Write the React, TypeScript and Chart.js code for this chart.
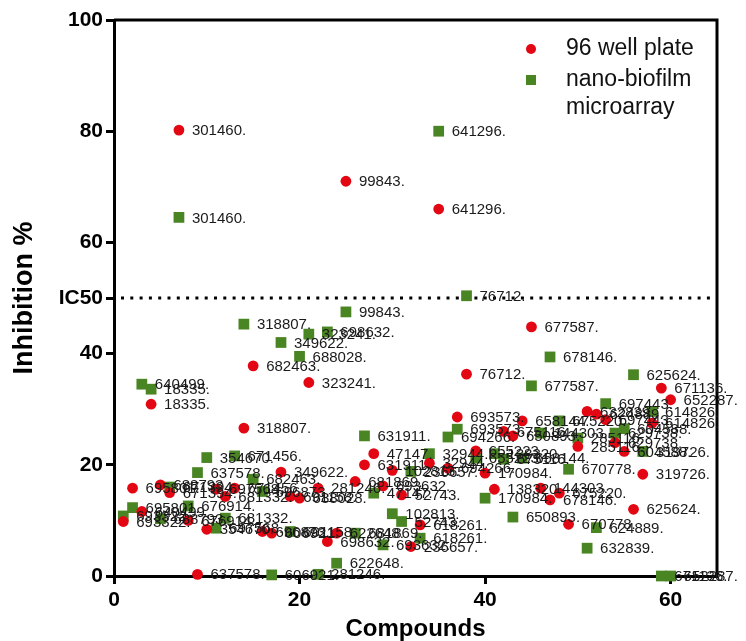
import React, { useEffect, useRef } from 'react';
import { Chart, registerables } from 'chart.js';

Chart.register(...registerables);

// ---- data ----
const compoundIndex = [
  1, 2, 3, 4, 5, 6, 7, 8, 9, 10,
  11, 12, 13, 14, 15, 16, 17, 18, 19, 20,
  21, 22, 23, 24, 25, 26, 27, 28, 29, 30,
  31, 32, 33, 34, 35, 36, 37, 38, 39, 40,
  41, 42, 43, 44, 45, 46, 47, 48, 49, 50,
  51, 52, 53, 54, 55, 56, 57, 58, 59, 60,
];

const compoundLabels = [
  '693322.', '695801.', '640499.', '18335.', '688793.', '671394.', '301460.', '676914.', '637578.', '354670.',
  '697568.', '681332.', '671456.', '318807.', '682463.', '696873.', '606921.', '349622.', '691158.', '688028.',
  '323241.', '281246.', '698632.', '622648.', '99843.', '681869.', '631911.', '47147.', '693632.', '102813.',
  '52743.', '236657.', '618261.', '32944.', '641296.', '694266.', '693573.', '76712.', '655223.', '170984.',
  '138320.', '675116.', '650893.', '658144.', '677587.', '144303.', '678146.', '675220.', '670778.', '285116.',
  '632839.', '624889.', '697443.', '629738.', '604588.', '625624.', '319726.', '614826.', '671136.', '652287.',
];

const plateValues = [
  9.8, 15.8, 11.6, 30.9, 16.4, 15.0, 80.2, 10.0, 0.3, 8.4,
  15.6, 14.3, 15.8, 26.6, 37.8, 8.0, 7.7, 18.7, 14.3, 14.0,
  34.8, 15.8, 6.2, 7.7, 71.0, 17.0, 20.0, 22.0, 16.2, 19.0,
  14.6, 5.3, 9.2, 20.3, 66.0, 19.4, 28.6, 36.3, 22.5, 18.5,
  15.6, 26.0, 25.2, 27.9, 44.8, 15.8, 13.7, 14.9, 9.3, 23.3,
  29.6, 29.1, 28.1, 24.0, 22.4, 12.0, 18.3, 27.5, 33.8, 31.7,
];

const microarrayValues = [
  10.8, 12.3, 34.5, 33.6, 10.3, 16.0, 64.5, 12.6, 18.6, 21.3,
  8.6, 10.4, 21.6, 45.3, 17.4, 15.2, 0.2, 42.0, 8.0, 39.5,
  43.5, 0.3, 43.9, 2.3, 47.5, 7.7, 25.2, 14.9, 5.6, 11.2,
  9.8, 18.8, 6.8, 22.0, 80.0, 25.0, 26.4, 50.4, 21.2, 14.0,
  22.0, 21.0, 10.6, 21.2, 34.2, 25.7, 39.4, 27.9, 19.2, 24.8,
  5.0, 8.7, 31.0, 25.7, 26.5, 36.2, 22.4, 29.6, 0, 0,
];

const seriesNames = ['96 well plate', 'nano-biofilm microarray'];
const legendLines = [['96 well plate'], ['nano-biofilm', 'microarray']];
const xTickValues = [0, 20, 40, 60];
const yTickValues = [0, 20, 40, 50, 60, 80, 100];
const yTickLabels = ['0', '20', '40', 'IC50', '60', '80', '100'];
const ic50Value = 50;

// ---- styles ----
const RED = '#e30613';
const GREEN = '#4a8523';
const FONT = "'Liberation Sans', Arial, Helvetica, sans-serif";

const framePlugin = {
  id: 'frame',
  beforeDatasetsDraw(chart: any) {
    const { ctx, chartArea, scales } = chart;
    const { left, right, top, bottom } = chartArea;
    ctx.save();
    const yy = scales.y.getPixelForValue(ic50Value);
    ctx.strokeStyle = '#000';
    ctx.lineWidth = 3;
    ctx.setLineDash([3, 6.3]);
    ctx.beginPath();
    ctx.moveTo(left + 7, yy);
    ctx.lineTo(right, yy);
    ctx.stroke();
    ctx.setLineDash([]);
    ctx.lineWidth = 3;
    ctx.beginPath();
    ctx.moveTo(left, top);
    ctx.lineTo(right, top);
    ctx.lineTo(right, bottom);
    ctx.stroke();
    ctx.restore();
  },
};

const pointLabelPlugin = {
  id: 'pointLabels',
  afterDatasetsDraw(chart: any) {
    const ctx = chart.ctx;
    ctx.save();
    ctx.font = `15px ${FONT}`;
    ctx.fillStyle = '#1a1a1a';
    ctx.textBaseline = 'middle';
    ctx.textAlign = 'left';
    chart.data.datasets.forEach((_ds: any, di: number) => {
      const meta = chart.getDatasetMeta(di);
      meta.data.forEach((el: any, i: number) => {
        ctx.fillText(compoundLabels[i], el.x + 13, el.y + 1);
      });
    });
    ctx.restore();
  },
};

const legendPlugin = {
  id: 'customLegend',
  afterDraw(chart: any) {
    const { ctx, chartArea } = chart;
    const markerX = chartArea.right - 186;
    const textX = chartArea.right - 151;
    let y = chartArea.top + 29;
    ctx.save();
    ctx.font = `23px ${FONT}`;
    ctx.fillStyle = '#111';
    ctx.textBaseline = 'middle';
    ctx.textAlign = 'left';
    legendLines.forEach((lines, di) => {
      if (di === 0) {
        ctx.fillStyle = RED;
        ctx.beginPath();
        ctx.arc(markerX, y, 5, 0, Math.PI * 2);
        ctx.fill();
      } else {
        ctx.fillStyle = GREEN;
        ctx.fillRect(markerX - 5, y - 5, 10, 10);
      }
      ctx.fillStyle = '#111';
      lines.forEach((line, li) => {
        ctx.fillText(line, textX, y + li * 28);
      });
      y += 31 + (lines.length - 1) * 28;
    });
    ctx.restore();
  },
};

export default function App() {
  const canvasRef = useRef<HTMLCanvasElement | null>(null);

  useEffect(() => {
    if (!canvasRef.current) return;
    const chart = new Chart(canvasRef.current, {
      type: 'scatter',
      data: {
        datasets: [
          {
            label: seriesNames[0],
            data: compoundIndex.map((c, i) => ({ x: c, y: plateValues[i] })),
            backgroundColor: RED,
            borderColor: RED,
            borderWidth: 0,
            pointStyle: 'circle',
            pointRadius: 5.4,
            clip: false as any,
          },
          {
            label: seriesNames[1],
            data: compoundIndex.map((c, i) => ({ x: c, y: microarrayValues[i] })),
            backgroundColor: GREEN,
            borderColor: GREEN,
            borderWidth: 0,
            pointStyle: 'rect',
            pointRadius: 7.6,
            clip: false as any,
          },
        ],
      },
      options: {
        animation: false,
        responsive: false,
        devicePixelRatio: 1,
        events: [],
        layout: { autoPadding: false, padding: { top: 20, right: 29, left: 0, bottom: 0 } },
        plugins: {
          legend: { display: false },
          tooltip: { enabled: false },
        },
        scales: {
          x: {
            type: 'linear',
            min: 0,
            max: 65,
            afterBuildTicks: (s: any) => {
              s.ticks = xTickValues.map((v) => ({ value: v }));
            },
            afterFit: (s: any) => {
              s.height = 65;
            },
            ticks: {
              color: '#000',
              padding: 4,
              font: { family: FONT, size: 21, weight: 'bold' },
            },
            grid: {
              display: true,
              drawOnChartArea: false,
              drawTicks: true,
              tickLength: 8,
              tickWidth: 3,
              tickColor: '#000',
            },
            border: { display: true, color: '#000', width: 3 },
            title: {
              display: true,
              text: 'Compounds',
              color: '#000',
              padding: { top: 0, bottom: 0 },
              font: { family: FONT, size: 24, weight: 'bold', lineHeight: 1.0 },
            },
          },
          y: {
            type: 'linear',
            min: 0,
            max: 100,
            afterBuildTicks: (s: any) => {
              s.ticks = yTickValues.map((v) => ({ value: v }));
            },
            afterFit: (s: any) => {
              s.width = 114;
            },
            ticks: {
              color: '#000',
              padding: 3,
              font: { family: FONT, size: 21, weight: 'bold' },
              callback: (v: any) => {
                const idx = yTickValues.indexOf(Number(v));
                return idx >= 0 ? yTickLabels[idx] : '';
              },
            },
            grid: {
              display: true,
              drawOnChartArea: false,
              drawTicks: true,
              tickLength: 8,
              tickWidth: 3,
              tickColor: '#000',
            },
            border: { display: true, color: '#000', width: 3 },
            title: {
              display: true,
              text: 'Inhibition %',
              color: '#000',
              padding: { top: 11, bottom: 0 },
              font: { family: FONT, size: 27, weight: 'bold', lineHeight: 1.0 },
            },
          },
        },
      } as any,
      plugins: [framePlugin, pointLabelPlugin, legendPlugin],
    });
    return () => chart.destroy();
  }, []);

  return (
    <div style={{ position: 'absolute', left: 0, top: 0, width: 746, height: 641, background: '#fff' }}>
      <canvas ref={canvasRef} width={746} height={641} style={{ display: 'block' }} />
    </div>
  );
}
